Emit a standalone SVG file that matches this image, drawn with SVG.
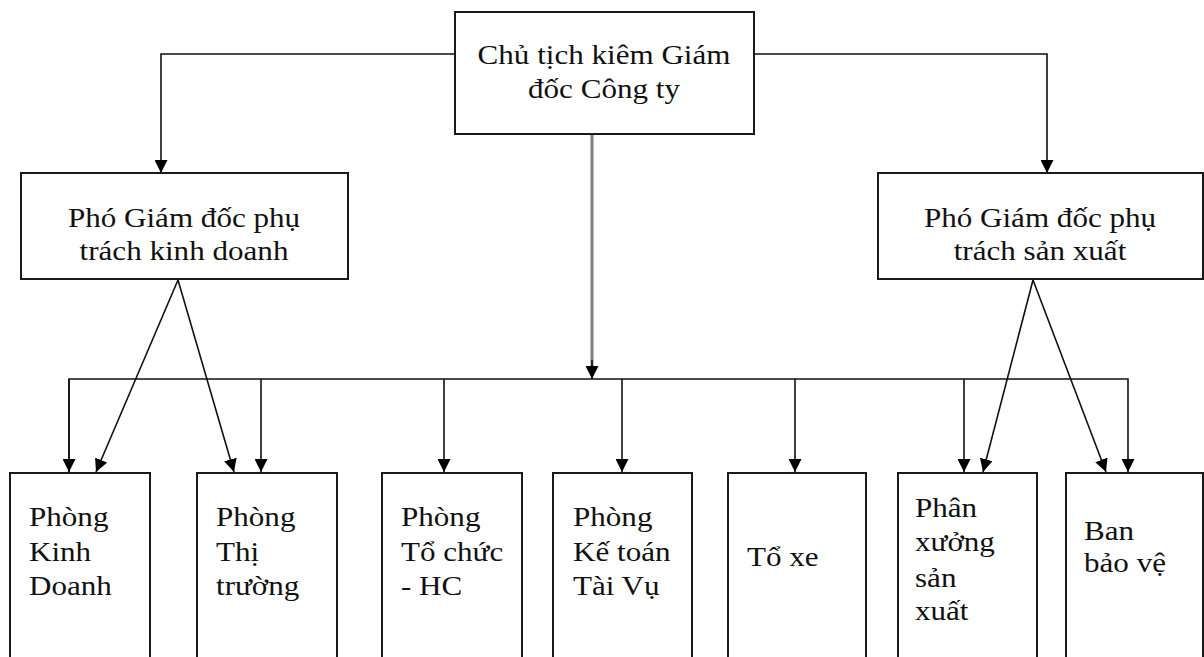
<svg xmlns="http://www.w3.org/2000/svg" width="1204" height="657" viewBox="0 0 1204 657">
  <style>
    .box { fill: #ffffff; stroke: #1a1a1a; stroke-width: 2; }
    .t { font-family: "Liberation Serif", "Times New Roman", serif; font-size: 28px; fill: #111111; }
    .c { text-anchor: middle; }
    .ln { fill: none; stroke: #111111; stroke-width: 1.6; }
    .main { fill: none; stroke: #808080; stroke-width: 3; }
  </style>
  <defs>
    <marker id="arrow" viewBox="0 0 12 12" refX="12" refY="6" markerWidth="13" markerHeight="13" markerUnits="userSpaceOnUse" orient="auto">
      <path d="M0,0 L12,6 L0,12 z" fill="#000000"/>
    </marker>
  </defs>
  <rect width="1204" height="657" fill="#ffffff"/>

  <g id="connectors">
    <!-- director to deputies -->
    <polyline class="ln" points="455,54 161,54 161,173" marker-end="url(#arrow)"/>
    <polyline class="ln" points="754,54 1047,54 1047,173" marker-end="url(#arrow)"/>
    <!-- director to departments bus -->
    <line class="main" x1="592" y1="134" x2="592" y2="366"/>
    <line class="ln" x1="592" y1="360" x2="592" y2="379" marker-end="url(#arrow)"/>
    <polyline class="ln" points="69,472 69,379 1128,379 1128,472" marker-end="url(#arrow)"/>
    <line class="ln" x1="261" y1="379" x2="261" y2="472" marker-end="url(#arrow)"/>
    <line class="ln" x1="444" y1="379" x2="444" y2="472" marker-end="url(#arrow)"/>
    <line class="ln" x1="622" y1="379" x2="622" y2="472" marker-end="url(#arrow)"/>
    <line class="ln" x1="795" y1="379" x2="795" y2="472" marker-end="url(#arrow)"/>
    <line class="ln" x1="964" y1="379" x2="964" y2="472" marker-end="url(#arrow)"/>
    <line class="ln" x1="69" y1="379" x2="69" y2="472" marker-end="url(#arrow)"/>
    <!-- deputy (business) to departments -->
    <line class="ln" x1="178" y1="280" x2="96" y2="472" marker-end="url(#arrow)"/>
    <line class="ln" x1="178" y1="280" x2="234" y2="472" marker-end="url(#arrow)"/>
    <!-- deputy (production) to departments -->
    <line class="ln" x1="1033" y1="280" x2="983" y2="472" marker-end="url(#arrow)"/>
    <line class="ln" x1="1033" y1="280" x2="1106" y2="472" marker-end="url(#arrow)"/>
  </g>

  <g id="director">
    <rect class="box" x="455" y="12" width="299" height="122"/>
    <g transform="translate(604,0) scale(1.11,1)">
      <text class="t c" x="0" y="64">Chủ tịch kiêm Giám</text>
      <text class="t c" x="0" y="98">đốc Công ty</text>
    </g>
  </g>

  <g id="deputy-business">
    <rect class="box" x="21" y="173" width="327" height="106"/>
    <g transform="translate(184,0) scale(1.11,1)">
      <text class="t c" x="0" y="227">Phó Giám đốc phụ</text>
      <text class="t c" x="0" y="260">trách kinh doanh</text>
    </g>
  </g>

  <g id="deputy-production">
    <rect class="box" x="878" y="173" width="325" height="106"/>
    <g transform="translate(1040,0) scale(1.11,1)">
      <text class="t c" x="0" y="227">Phó Giám đốc phụ</text>
      <text class="t c" x="0" y="260">trách sản xuất</text>
    </g>
  </g>

  <g id="dept-business">
    <rect class="box" x="10" y="473" width="140" height="200"/>
    <g transform="translate(29,0) scale(1.11,1)">
      <text class="t" x="0" y="526">Phòng</text>
      <text class="t" x="0" y="561">Kinh</text>
      <text class="t" x="0" y="595">Doanh</text>
    </g>
  </g>

  <g id="dept-market">
    <rect class="box" x="197" y="473" width="140" height="200"/>
    <g transform="translate(216,0) scale(1.11,1)">
      <text class="t" x="0" y="526">Phòng</text>
      <text class="t" x="0" y="561">Thị</text>
      <text class="t" x="0" y="595">trường</text>
    </g>
  </g>

  <g id="dept-admin">
    <rect class="box" x="382" y="473" width="140" height="200"/>
    <g transform="translate(401,0) scale(1.11,1)">
      <text class="t" x="0" y="526">Phòng</text>
      <text class="t" x="0" y="561">Tổ chức</text>
      <text class="t" x="0" y="595">- HC</text>
    </g>
  </g>

  <g id="dept-finance">
    <rect class="box" x="553" y="473" width="139" height="200"/>
    <g transform="translate(573,0) scale(1.11,1)">
      <text class="t" x="0" y="526">Phòng</text>
      <text class="t" x="0" y="561">Kế toán</text>
      <text class="t" x="0" y="595">Tài Vụ</text>
    </g>
  </g>

  <g id="vehicle-team">
    <rect class="box" x="728" y="473" width="138" height="200"/>
    <g transform="translate(747,0) scale(1.11,1)">
      <text class="t" x="0" y="566">Tổ xe</text>
    </g>
  </g>

  <g id="workshop">
    <rect class="box" x="898" y="473" width="139" height="200"/>
    <g transform="translate(915,0) scale(1.11,1)">
      <text class="t" x="0" y="517">Phân</text>
      <text class="t" x="0" y="551">xưởng</text>
      <text class="t" x="0" y="587">sản</text>
      <text class="t" x="0" y="620">xuất</text>
    </g>
  </g>

  <g id="security">
    <rect class="box" x="1066" y="473" width="137" height="200"/>
    <g transform="translate(1084,0) scale(1.11,1)">
      <text class="t" x="0" y="540">Ban</text>
      <text class="t" x="0" y="572">bảo vệ</text>
    </g>
  </g>
</svg>
